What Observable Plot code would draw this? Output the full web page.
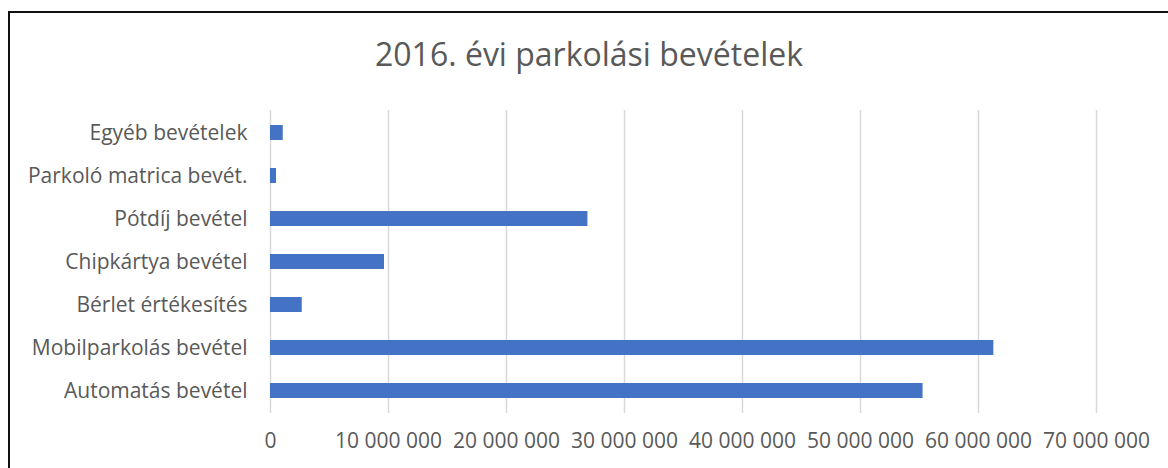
<!DOCTYPE html>
<html>
<head>
<meta charset="utf-8">
<script src="https://cdn.jsdelivr.net/npm/d3@7"></script>
<script src="https://cdn.jsdelivr.net/npm/@observablehq/plot@0.6"></script>
<style>
  html, body { margin: 0; padding: 0; background: #fff; overflow: hidden; }
  #wrap { position: relative; width: 1168px; height: 468px; overflow: hidden; }
  #frame { position: absolute; left: 8px; top: 11px; width: 1300px; height: 600px;
           border-top: 2px solid #111; border-left: 2px solid #111; }
  #title { position: absolute; left: 0; width: 1178px; top: 38px; text-align: center;
           font-family: "Open Sans", sans-serif; font-size: 32px; line-height: 32px; color: #595959; }
  #chart { position: absolute; left: 0; top: 90px; }
</style>
</head>
<body>
<div id="wrap">
  <div id="frame"></div>
  <div id="title">2016. évi parkolási bevételek</div>
  <div id="chart"></div>
</div>
<script>
const categories = [
  "Egyéb bevételek",
  "Parkoló matrica bevét.",
  "Pótdíj bevétel",
  "Chipkártya bevétel",
  "Bérlet értékesítés",
  "Mobilparkolás bevétel",
  "Automatás bevétel"
];
const values = [1080000, 510000, 26900000, 9660000, 2690000, 61300000, 55300000];
const xTicks = [0, 10000000, 20000000, 30000000, 40000000, 50000000, 60000000, 70000000];

const data = categories.map((c, i) => ({category: c, value: values[i]}));
const huFormat = d3.formatLocale({decimal: ",", thousands: " ", grouping: [3], currency: ["", ""]}).format(",");

const chart = Plot.plot({
  width: 1168,
  height: 378,
  marginLeft: 270,
  marginRight: 72,
  marginTop: 20,
  marginBottom: 55,
  style: {fontFamily: "Open Sans, sans-serif", fontSize: "21px", color: "#595959", background: "transparent"},
  x: {domain: [0, 70000000], ticks: xTicks, tickFormat: huFormat},
  y: {domain: categories, paddingInner: 0.65, paddingOuter: 0.325},
  marks: [
    Plot.ruleX(xTicks, {stroke: "#d9d9d9", strokeWidth: 1.5}),
    Plot.barX(data, {x: "value", y: "category", fill: "#4472C4"}),
    Plot.axisX({ticks: xTicks, tickFormat: huFormat, tickSize: 0, tickPadding: 20, label: null}),
    Plot.axisY({tickSize: 0, tickPadding: 23, label: null})
  ]
});
document.getElementById("chart").appendChild(chart);
</script>
</body>
</html>
